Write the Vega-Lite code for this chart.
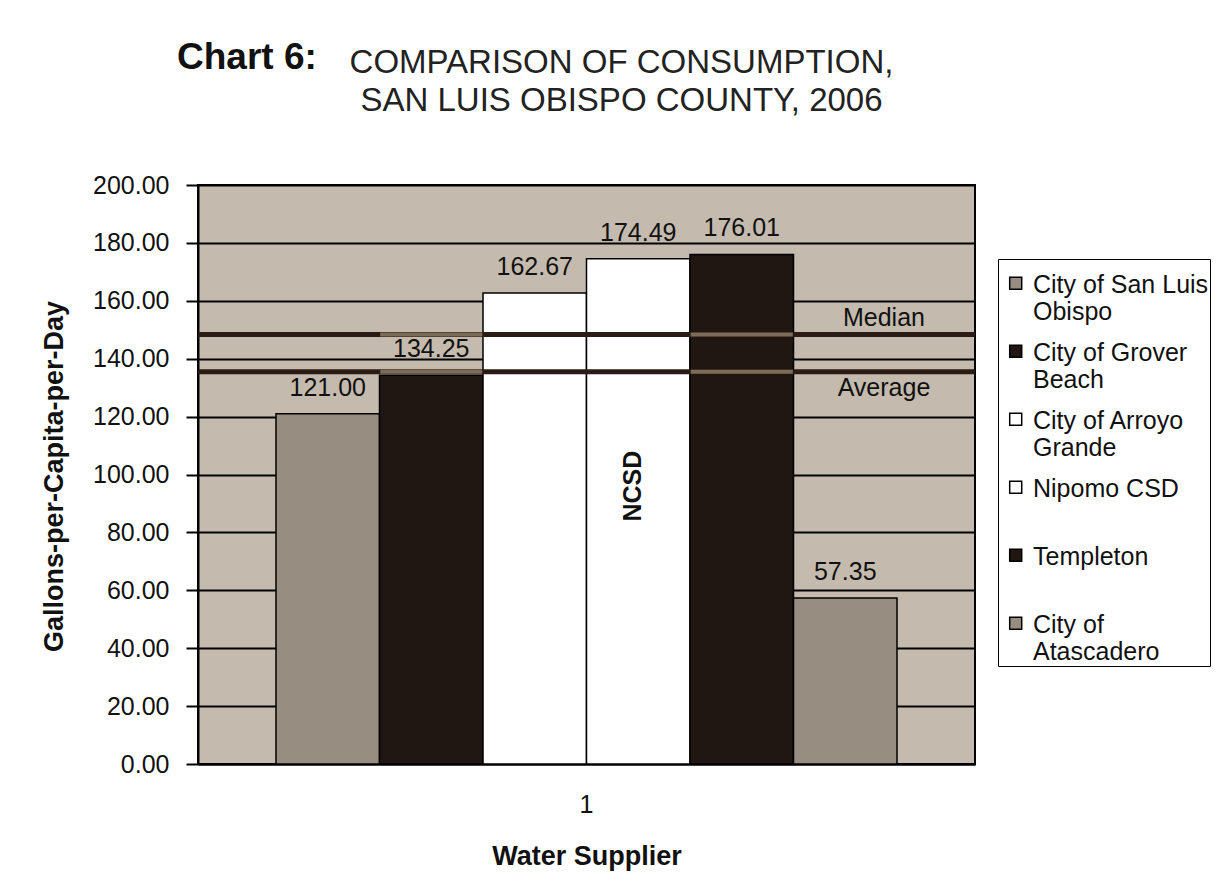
{
  "$schema": "https://vega.github.io/schema/vega-lite/v6.json",
  "width": 777,
  "height": 579,
  "autosize": {"type": "none"},
  "padding": {"left": 198, "top": 185, "right": 245, "bottom": 122},
  "background": "#ffffff",
  "title": {
    "text": "Chart 6:",
    "anchor": "start",
    "frame": "group",
    "dx": -21,
    "offset": -31,
    "font": "Liberation Sans",
    "fontSize": 37,
    "fontWeight": "bold",
    "color": "#111111"
  },
  "datasets": {
    "supply": [
      {"g": "1", "supplier": "City of San Luis Obispo", "v": 121.00},
      {"g": "1", "supplier": "City of Grover Beach", "v": 134.25},
      {"g": "1", "supplier": "City of Arroyo Grande", "v": 162.67},
      {"g": "1", "supplier": "Nipomo CSD", "v": 174.49},
      {"g": "1", "supplier": "Templeton", "v": 176.01},
      {"g": "1", "supplier": "City of Atascadero", "v": 57.35}
    ],
    "stats": [
      {"stat": "Median", "v": 148.4},
      {"stat": "Average", "v": 135.5}
    ],
    "overlay": [
      {"g": "1", "supplier": "City of Grover Beach", "stat": "Median", "v": 148.4},
      {"g": "1", "supplier": "City of Grover Beach", "stat": "Average", "v": 135.5},
      {"g": "1", "supplier": "Templeton", "stat": "Median", "v": 148.4},
      {"g": "1", "supplier": "Templeton", "stat": "Average", "v": 135.5}
    ]
  },
  "data": {"name": "supply"},
  "layer": [
    {
      "mark": {"type": "bar", "stroke": "#000000", "strokeWidth": 1.5},
      "encoding": {
        "x": {
          "field": "g", "type": "nominal",
          "scale": {"paddingInner": 0, "paddingOuter": 0.1256},
          "axis": {
            "orient": "bottom", "title": "Water Supplier", "labelAngle": 0, "ticks": false,
            "domainWidth": 2, "domainColor": "#000000", "grid": false,
            "labelFont": "Liberation Sans", "labelFontSize": 25, "labelColor": "#111111", "labelPadding": 28,
            "titleFont": "Liberation Sans", "titleFontSize": 27, "titleFontWeight": "bold", "titleColor": "#111111",
            "titleY": 79, "titleBaseline": "top"
          }
        },
        "xOffset": {
          "field": "supplier", "type": "nominal",
          "scale": {
            "domain": ["City of San Luis Obispo", "City of Grover Beach", "City of Arroyo Grande", "Nipomo CSD", "Templeton", "City of Atascadero"],
            "paddingInner": 0, "paddingOuter": 0
          }
        },
        "y": {
          "field": "v", "type": "quantitative",
          "scale": {"domain": [0, 200], "nice": false, "zero": true},
          "axis": {
            "values": [0, 20, 40, 60, 80, 100, 120, 140, 160, 180, 200],
            "format": ".2f",
            "title": "Gallons-per-Capita-per-Day",
            "grid": true, "gridColor": "#000000", "gridWidth": 2, "gridOpacity": 1,
            "domainWidth": 2, "domainColor": "#000000",
            "tickWidth": 2, "tickSize": 12, "tickColor": "#000000",
            "labelFont": "Liberation Sans", "labelFontSize": 25, "labelColor": "#111111", "labelPadding": 17,
            "titleFont": "Liberation Sans", "titleFontSize": 27, "titleFontWeight": "bold", "titleColor": "#111111",
            "titleX": -144, "titleY": 291, "titleAngle": 270, "titleAlign": "center", "titleBaseline": "middle"
          }
        },
        "color": {
          "field": "supplier", "type": "nominal",
          "scale": {
            "domain": ["City of San Luis Obispo", "City of Grover Beach", "City of Arroyo Grande", "Nipomo CSD", "Templeton", "City of Atascadero"],
            "range": ["#978d80", "#201612", "#ffffff", "#ffffff", "#201612", "#978d80"]
          },
          "legend": {
            "orient": "none", "legendX": 800, "legendY": 74,
            "title": null,
            "strokeColor": "#000000", "fillColor": "#ffffff", "padding": 1,
            "labelFont": "Liberation Sans", "labelFontSize": 25, "labelColor": "#111111",
            "labelBaseline": "top", "labelLimit": 300, "labelOffset": 9,
            "symbolType": "M-0.3,0.8H1.7V2.8H-0.3Z", "symbolSize": 144,
            "symbolStrokeColor": "#000000", "symbolStrokeWidth": 1.5, "symbolOpacity": 1,
            "rowPadding": 3, "gridAlign": "all",
            "labelExpr": "datum.label == 'City of San Luis Obispo' ? ['City of San Luis', 'Obispo'] : datum.label == 'City of Grover Beach' ? ['City of Grover', 'Beach'] : datum.label == 'City of Arroyo Grande' ? ['City of Arroyo', 'Grande'] : datum.label == 'City of Atascadero' ? ['City of', 'Atascadero'] : datum.label"
          }
        }
      }
    },
    {
      "mark": {"type": "text", "baseline": "alphabetic", "dy": -18, "font": "Liberation Sans", "fontSize": 25, "color": "#111111"},
      "encoding": {
        "x": {
          "field": "g", "type": "nominal",
          "axis": {
            "orient": "top", "labels": false, "ticks": false, "domain": false, "grid": false,
            "title": ["COMPARISON OF CONSUMPTION,", "SAN LUIS OBISPO COUNTY, 2006"],
            "titleFont": "Liberation Sans", "titleFontSize": 33, "titleFontWeight": "normal", "titleColor": "#222222",
            "titleX": 423, "titleY": -139, "titleBaseline": "top", "titleAlign": "center", "titleLineHeight": 38.5
          }
        },
        "xOffset": {"field": "supplier", "type": "nominal"},
        "y": {"field": "v", "type": "quantitative"},
        "text": {"field": "v", "type": "quantitative", "format": ".2f"}
      }
    },
    {
      "transform": [{"filter": "datum.supplier == 'Nipomo CSD'"}],
      "mark": {"type": "text", "angle": 270, "align": "center", "baseline": "middle", "dy": -5, "font": "Liberation Sans", "fontSize": 25, "fontWeight": "bold", "color": "#111111"},
      "encoding": {
        "x": {"field": "g", "type": "nominal", "axis": null},
        "xOffset": {"field": "supplier", "type": "nominal"},
        "y": {"datum": 96, "type": "quantitative"},
        "text": {"value": "NCSD"}
      }
    },
    {
      "data": {"name": "stats"},
      "mark": {"type": "rule", "color": "#2a1c14", "strokeWidth": 5},
      "encoding": {
        "y": {"field": "v", "type": "quantitative"}
      }
    },
    {
      "data": {"name": "overlay"},
      "mark": {"type": "tick", "color": "#7d6d58", "thickness": 4, "size": 102, "opacity": 1},
      "encoding": {
        "x": {"field": "g", "type": "nominal", "axis": null},
        "xOffset": {"field": "supplier", "type": "nominal"},
        "y": {"field": "v", "type": "quantitative"}
      }
    },
    {
      "data": {"name": "stats"},
      "transform": [{"filter": "datum.stat == 'Median'"}],
      "mark": {"type": "text", "baseline": "middle", "align": "center", "dy": -16, "font": "Liberation Sans", "fontSize": 25, "color": "#111111"},
      "encoding": {
        "x": {"datum": "1", "type": "nominal", "bandPosition": 0.979, "axis": null},
        "y": {"field": "v", "type": "quantitative"},
        "text": {"field": "stat", "type": "nominal"}
      }
    },
    {
      "data": {"name": "stats"},
      "transform": [{"filter": "datum.stat == 'Average'"}],
      "mark": {"type": "text", "baseline": "middle", "align": "center", "dy": 16, "font": "Liberation Sans", "fontSize": 25, "color": "#111111"},
      "encoding": {
        "x": {"datum": "1", "type": "nominal", "bandPosition": 0.979, "axis": null},
        "y": {"field": "v", "type": "quantitative"},
        "text": {"field": "stat", "type": "nominal"}
      }
    }
  ],
  "resolve": {"axis": {"x": "independent"}},
  "config": {
    "view": {"fill": "#c4bbae", "stroke": "#000000", "strokeWidth": 2}
  }
}
